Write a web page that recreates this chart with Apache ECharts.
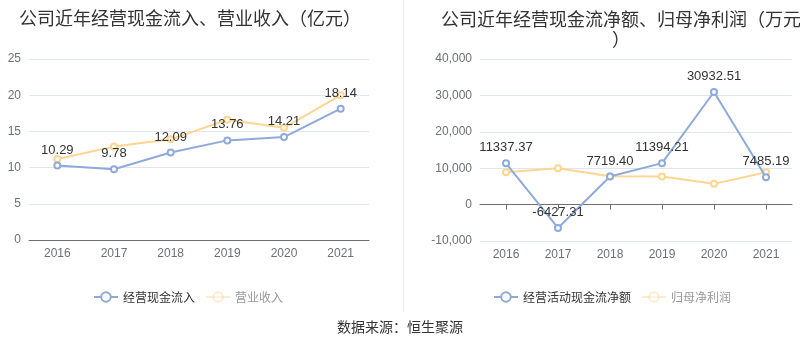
<!DOCTYPE html>
<html><head><meta charset="utf-8">
<script src="https://cdn.jsdelivr.net/npm/echarts@6/dist/echarts.min.js"></script>
<style>html,body{margin:0;padding:0;background:#fff}#c{width:800px;height:358px}</style>
</head><body><div id="c"></div>
<script>
const years = ['2016','2017','2018','2019','2020','2021'];
const cashInflow = [10.29, 9.78, 12.09, 13.76, 14.21, 18.14];
const revenue = [11.2, 12.9, 13.9, 16.6, 15.5, 20.0];
const netCashFlow = [11337.37, -6427.31, 7719.40, 11394.21, 30932.51, 7485.19];
const netProfit = [8900, 10000, 7800, 7700, 5700, 8900];
const leftTicks = {min: 0, max: 25, interval: 5};
const rightTicks = {min: -10000, max: 40000, interval: 10000};

const BLUE = '#8eaadb', ORANGE = '#ffd591';
const font = '"Liberation Sans", "Noto Sans CJK SC", sans-serif';
const cjk = '"Noto Sans CJK SC", sans-serif';
const chart = echarts.init(document.getElementById('c'));

function lineSeries(name, data, color, xi, yi, label) {
  return {
    name, type: 'line', data, xAxisIndex: xi, yAxisIndex: yi,
    symbol: 'emptyCircle', symbolSize: 6,
    lineStyle: {color, width: 2}, itemStyle: {color, borderWidth: 2},
    label: label ? {show: true, position: 'top', color: '#333', fontSize: 13, fontFamily: font,
      formatter: p => p.value.toFixed(2)} : {show: false},
    z: label ? 3 : 2
  };
}
const axisLbl = {color: '#6e7079', fontSize: 12, fontFamily: font};
chart.setOption({
  animation: false,
  textStyle: {fontFamily: font},
  title: [
    {text: '公司近年经营现金流入、营业收入（亿元）', left: 185, top: 4, textAlign: 'center',
     textStyle: {fontSize: 18, fontWeight: 'normal', color: '#333', fontFamily: cjk}},
    {text: '公司近年经营现金流净额、归母净利润（万元）', left: 616, top: 4, textAlign: 'center',
     textStyle: {fontSize: 18, fontWeight: 'normal', color: '#333', fontFamily: cjk, width: 372, overflow: 'break', lineHeight: 20}},
    {text: '数据来源：恒生聚源', left: 'center', top: 315,
     textStyle: {fontSize: 14, fontWeight: 'normal', color: '#333', fontFamily: cjk}}
  ],
  graphic: [{type: 'line', shape: {x1: 403.5, y1: 0, x2: 403.5, y2: 312}, style: {stroke: '#eee', lineWidth: 1}}],
  legend: [
    {left: 93, top: 291, padding: 0, itemWidth: 24, itemHeight: 12, itemGap: 10,
     textStyle: {fontSize: 12, color: '#333', fontFamily: cjk},
     data: [{name: '经营现金流入'},
            {name: '营业收入', textStyle: {color: '#999'}, itemStyle: {opacity: 0.45}, lineStyle: {opacity: 0.45}}]},
    {left: 493, top: 291, padding: 0, itemWidth: 24, itemHeight: 12, itemGap: 10,
     textStyle: {fontSize: 12, color: '#333', fontFamily: cjk},
     data: [{name: '经营活动现金流净额'},
            {name: '归母净利润', textStyle: {color: '#999'}, itemStyle: {opacity: 0.45}, lineStyle: {opacity: 0.45}}]}
  ],
  grid: [
    {left: 29, top: 59, width: 340, height: 181},
    {left: 480, top: 59, width: 312, height: 182}
  ],
  xAxis: [
    {type: 'category', gridIndex: 0, data: years, boundaryGap: true,
     axisLine: {lineStyle: {color: '#6e7079'}}, axisTick: {alignWithLabel: true}, axisLabel: axisLbl},
    {type: 'category', gridIndex: 1, data: years, boundaryGap: true, position: 'bottom',
     axisLine: {show: false, onZero: false}, axisTick: {show: false}, axisLabel: axisLbl},
    {type: 'category', gridIndex: 1, data: years, boundaryGap: true, position: 'top',
     axisLine: {show: true, onZero: true, lineStyle: {color: '#6e7079'}},
     axisTick: {show: true, inside: true, alignWithLabel: true}, axisLabel: {show: false}}
  ],
  yAxis: [
    {type: 'value', gridIndex: 0, min: leftTicks.min, max: leftTicks.max, interval: leftTicks.interval,
     axisLabel: axisLbl, splitLine: {lineStyle: {color: '#e0e6f1'}}},
    {type: 'value', gridIndex: 1, min: rightTicks.min, max: rightTicks.max, interval: rightTicks.interval,
     axisLabel: Object.assign({formatter: v => v.toLocaleString('en-US')}, axisLbl),
     splitLine: {lineStyle: {color: '#e0e6f1'}}}
  ],
  series: [
    lineSeries('营业收入', revenue, ORANGE, 0, 0, false),
    lineSeries('经营现金流入', cashInflow, BLUE, 0, 0, true),
    lineSeries('归母净利润', netProfit, ORANGE, 1, 1, false),
    lineSeries('经营活动现金流净额', netCashFlow, BLUE, 1, 1, true)
  ]
});
</script></body></html>
